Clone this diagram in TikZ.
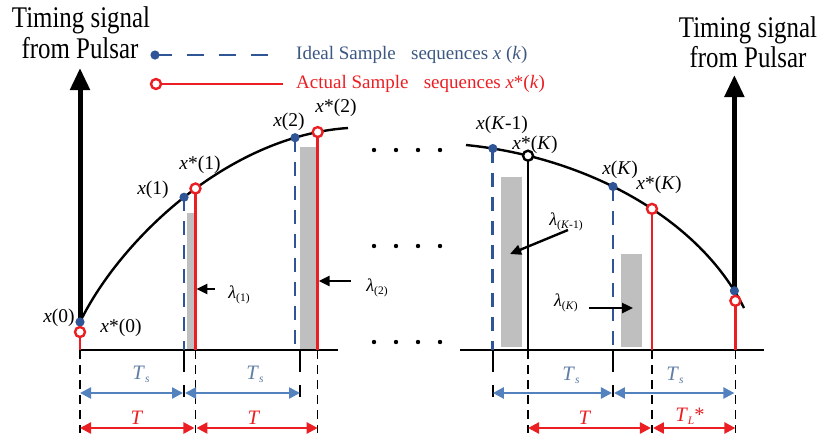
\documentclass[tikz,border=0pt]{standalone}
\usepackage{fontspec}
\setmainfont{Liberation Serif}
\newfontfamily\titlefont{Liberation Serif}[FakeStretch=0.83]
\usetikzlibrary{arrows.meta,calc}
\definecolor{iblue}{RGB}{47,85,151}
\definecolor{tsblue}{RGB}{84,130,190}
\definecolor{tstext}{RGB}{95,125,165}
\definecolor{legblue}{RGB}{60,88,130}
\definecolor{ared}{RGB}{235,30,35}
\definecolor{bargray}{RGB}{191,191,191}
\newcommand\mysub[1]{\raisebox{-0.35ex}{\fontsize{11.5pt}{12pt}\selectfont #1}}
\begin{document}
\begin{tikzpicture}[x=1pt,y=-1pt,
  curve/.style={line width=2.4pt,black},
  bigarrow/.style={line width=5pt,-{Triangle[width=19pt,length=22pt]}},
  idash/.style={iblue,line width=2.8pt,dash pattern=on 14pt off 10pt},
  legdash/.style={iblue,line width=2.8pt,dash pattern=on 17pt off 15pt},
  redl/.style={ared,line width=2.6pt},
  bdot/.style={fill=iblue},
  rcirc/.style={draw=ared,line width=2.4pt,fill=white},
  kcirc/.style={draw=black,line width=2.4pt,fill=white},
  itick/.style={black,line width=2.4pt,dash pattern=on 22pt off 13pt},
  rtick/.style={black,line width=1.5pt,dash pattern=on 9pt off 6pt},
  tsarr/.style={tsblue,line width=2.4pt,{Triangle[width=11pt,length=11pt]}-{Triangle[width=11pt,length=11pt]}},
  tarr/.style={ared,line width=2.4pt,{Triangle[width=11pt,length=11pt]}-{Triangle[width=11pt,length=11pt]}},
  lamarr/.style={black,line width=2.4pt,-{Triangle[width=10pt,length=11pt]}},
  lbl/.style={font=\fontsize{19.5pt}{20pt}\selectfont,inner sep=0pt},
  lam/.style={font=\fontsize{18pt}{20pt}\selectfont,inner sep=0pt},
  tslbl/.style={font=\fontsize{20.5pt}{20pt}\selectfont,inner sep=0pt,text=tstext},
  tlbl/.style={font=\fontsize{20.5pt}{20pt}\selectfont,inner sep=0pt,text=ared},
  ttl/.style={font=\titlefont\fontsize{30pt}{32pt}\selectfont,inner sep=0pt,anchor=base},
  leg/.style={font=\fontsize{19pt}{20pt}\selectfont,inner sep=0pt,anchor=west}
]
\useasboundingbox (0,0) rectangle (819,440);

% axis positions
\coordinate (a0) at (80,350);
\coordinate (i2) at (300,350);
\coordinate (axLe) at (338,350); \coordinate (axR0) at (460,350); \coordinate (axRe) at (764,350);

% gray bars
\fill[bargray] (187,213) rectangle (194,349);
\fill[bargray] (300,147) rectangle (316,349);
\fill[bargray] (501,177) rectangle (522,347);
\fill[bargray] (621,254) rectangle (642,347);

% curves with sample points on them
\draw[curve] (80,322) coordinate (x0)
  .. controls (120,240) and (228,136) ..
  coordinate[pos=0.5] (x1) coordinate[pos=0.54] (xs1)
  coordinate[pos=0.85] (x2) coordinate[pos=0.915] (xs2)
  (348,128);
\draw[curve] (466,145)
  .. controls (586,157) and (699,218) ..
  coordinate[pos=0.075] (xK1) coordinate[pos=0.175] (xsK)
  coordinate[pos=0.433] (xK) coordinate[pos=0.566] (xsKr)
  coordinate[pos=0.935] (xL)
  (744,308);
\coordinate (xs0) at (80,332);
\coordinate (xsL) at ($(xL)+(1,10)$);
\coordinate (tipL) at (80,68);
\coordinate (tipR) at (xL |- 0,75);

% axes
\draw[line width=2.4pt] (a0) -- (axLe);
\draw[line width=2.4pt] (axR0) -- (axRe);

% thick arrows
\draw[bigarrow] (x0) -- (tipL);
\draw[bigarrow] (xL) -- (tipR);

% ideal sample lines
\draw[idash] (x1) -- (x1 |- a0);
\draw[idash] (x2) -- (x2 |- a0);
\draw[idash] (xK1) -- (xK1 |- a0);
\draw[idash] (xK) -- (xK |- a0);

% actual sample lines
\draw[redl] (xs0) -- (a0);
\draw[redl] (xs1) -- (xs1 |- a0);
\draw[redl] (xs2) -- (xs2 |- a0);
\draw[line width=2pt,black] (xsK) -- (xsK |- a0);
\draw[redl] (xsKr) -- (xsKr |- a0);
\draw[redl] (xsL) -- (xsL |- a0);

% dots and circles
\foreach \p in {x0,x1,x2,xK1,xK,xL} \fill[bdot] (\p) circle (4.6);
\foreach \p in {xs0,xs1,xs2,xsKr,xsL} \draw[rcirc] (\p) circle (5);
\draw[kcirc] (xsK) circle (5);

% ellipsis dots
\foreach \yy in {150,246,342} \foreach \xx in {374,396,418,440} \fill (\xx,\yy) circle (2.2);

% ticks below the axis
\coordinate (i1) at (x1 |- a0);  \coordinate (r1) at (xs1 |- a0);
\coordinate (r2) at (xs2 |- a0);
\coordinate (i3) at (xK1 |- a0); \coordinate (r3) at (xsK |- a0);
\coordinate (i4) at (xK |- a0);  \coordinate (r4) at (xsKr |- a0);
\coordinate (r5) at (xsL |- a0);
\draw[rtick] (a0) -- ++(0,83);
\draw[itick] (i1) -- ++(0,47);
\draw[rtick] (r1) -- ++(0,83);
\draw[itick] (i2) -- ++(0,47);
\draw[rtick] (r2) -- ++(0,83);
\draw[itick] (i3) -- ++(0,47);
\draw[rtick] (r3) -- ++(0,83);
\draw[itick] (i4) -- ++(0,47);
\draw[rtick] (r4) -- ++(0,83);
\draw[rtick] (r5) -- ++(0,83);

% Ts arrows
\draw[tsarr] ($(a0)+(0,43)$) -- ($(i1)+(-1,43)$);
\draw[tsarr] ($(i1)+(1,43)$) -- ($(i2)+(0,43)$);
\draw[tsarr] ($(i3)+(0,43)$) -- ($(i4)+(-1,43)$);
\draw[tsarr] ($(i4)+(1,43)$) -- ($(r5)+(-1,43)$);
% T arrows
\draw[tarr] ($(a0)+(0,78)$) -- ($(r1)+(-1,78)$);
\draw[tarr] ($(r1)+(1,78)$) -- ($(r2)+(0,78)$);
\draw[tarr] ($(r3)+(0,78)$) -- ($(r4)+(-1,78)$);
\draw[tarr] ($(r4)+(1,78)$) -- ($(r5)+(0,78)$);

% Ts / T labels
\node[tslbl] (ts1) at (141,374) {\textit{T}\mysub{\textit{s}}};
\node[tslbl] (ts2) at (255,374) {\textit{T}\mysub{\textit{s}}};
\node[tslbl] (ts3) at (571,375) {\textit{T}\mysub{\textit{s}}};
\node[tslbl] (ts4) at (675,375) {\textit{T}\mysub{\textit{s}}};
\node[tlbl] (t1) at (137,418) {\textit{T}};
\node[tlbl] (t2) at (254,418) {\textit{T}};
\node[tlbl] (t3) at (585,418) {\textit{T}};
\node[tlbl] (t4) at (690,416) {\textit{T}\mysub{\textit{L}}*};

% sample labels
\node[lbl] (lx0) at (59,318) {\textit{x}(0)};
\node[lbl] (lxs0) at (121,328) {\textit{x}*(0)};
\node[lbl] (lx1) at (153,190) {\textit{x}(1)};
\node[lbl] (lxs1) at (200,165) {\textit{x}*(1)};
\node[lbl] (lx2) at (289,122) {\textit{x}(2)};
\node[lbl] (lxs2) at (336,108) {\textit{x}*(2)};
\node[lbl] (lxK1) at (502,125) {\textit{x}(\textit{K}-1)};
\node[lbl] (lxsK) at (535,145) {\textit{x}*(\textit{K})};
\node[lbl] (lxK) at (620,170) {\textit{x}(\textit{K})};
\node[lbl] (lxsKr) at (659,185) {\textit{x}*(\textit{K})};

% lambda labels and arrows
\node[lam] (l1) at (239,295) {\textit{λ}\mysub{(1)}};
\node[lam] (l2) at (377,288) {\textit{λ}\mysub{(2)}};
\node[lam] (lK1) at (566,222) {\textit{λ}\mysub{(\textit{K}-1)}};
\node[lam] (lK) at (566,303) {\textit{λ}\mysub{(\textit{K})}};
\coordinate (e1) at (215,289); \coordinate (f1) at ($(xs1 |- 0,289)+(1,0)$);
\coordinate (e2) at (351,281); \coordinate (f2) at ($(xs2 |- 0,281)+(1,0)$);
\coordinate (e3) at (568,230); \coordinate (f3) at (510,254);
\coordinate (e4) at (589,308); \coordinate (f4) at (633,308);
\draw[lamarr] (e1) -- (f1);
\draw[lamarr] (e2) -- (f2);
\draw[lamarr] (e3) -- (f3);
\draw[lamarr] (e4) -- (f4);

% titles
\node[ttl] (tl1) at (81,27) {Timing signal};
\node[ttl] (tl2) at (80,58) {from Pulsar};
\node[ttl] (tr1) at (748,37) {Timing signal};
\node[ttl] (tr2) at (748,67) {from Pulsar};

% legend
\coordinate (lg1a) at (155,55); \coordinate (lg1b) at (280,55);
\coordinate (lg2a) at (156,84); \coordinate (lg2b) at (283,84);
\draw[legdash] (lg1a) -- (lg1b);
\fill[bdot] (lg1a) circle (4.6);
\draw[redl] (lg2a) -- (lg2b);
\draw[rcirc] (lg2a) circle (5);
\node[leg,text=legblue] (leg1) at (296,55) {Ideal Sample\hspace{0.8em}sequences \textit{x} (\textit{k})};
\node[leg,text=ared] (leg2) at (296,84) {Actual Sample\hspace{0.8em}sequences \textit{x}*(\textit{k})};
\end{tikzpicture}
\end{document}
